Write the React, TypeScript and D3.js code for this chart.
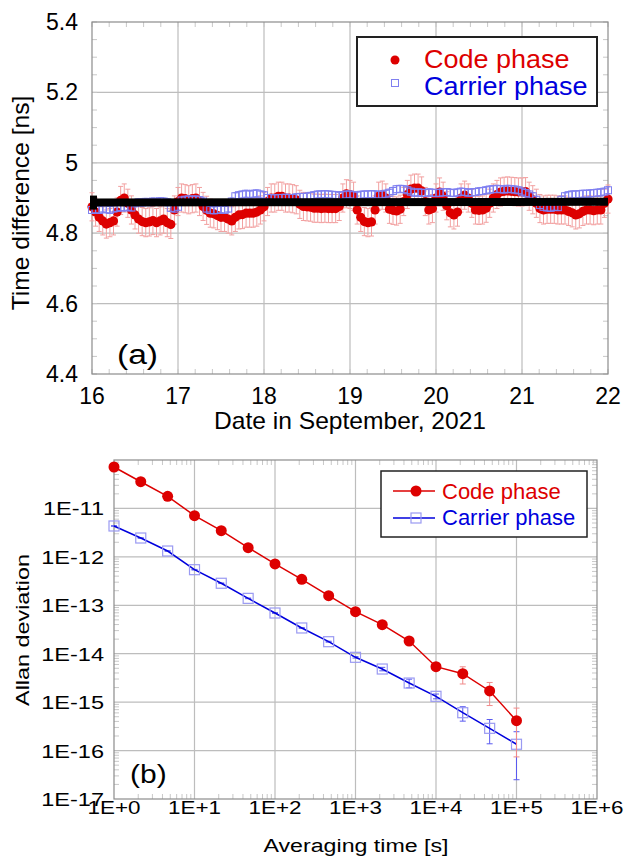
import React, { useRef, useEffect } from 'react';
import * as d3 from 'd3';

// (a) hourly time difference, 16 Sep 00:00 -> 22 Sep 00:00 [ns]
const codePhase = [
  4.875, 4.86, 4.845, 4.835, 4.826, 4.83, 4.835, 4.86, 4.893, 4.9,
  4.885, 4.866, 4.852, 4.84, 4.833, 4.83, 4.832, 4.836, 4.83, 4.835,
  4.84, 4.83, 4.825, 4.866, 4.89, 4.9, 4.898, 4.895, 4.898, 4.9,
  4.89, 4.876, 4.865, 4.857, 4.855, 4.85, 4.845, 4.845, 4.84, 4.835,
  4.845, 4.852, 4.853, 4.857, 4.857, 4.857, 4.86, 4.866, 4.875, 4.89,
  4.9, 4.9, 4.905, 4.905, 4.9, 4.9, 4.898, 4.895, 4.882, 4.876,
  4.875, 4.874, 4.871, 4.871, 4.87, 4.871, 4.87, 4.87, 4.87, 4.876,
  4.9, 4.912, 4.91, 4.905, 4.866, 4.845, 4.833, 4.83, 4.832, 4.866,
  4.905, 4.908, 4.9, 4.868, 4.865, 4.863, 4.868, 4.89, 4.91, 4.925,
  4.928, 4.928, 4.92, 4.89, 4.866, 4.87, 4.9, 4.917, 4.905, 4.878,
  4.858, 4.852, 4.86, 4.9, 4.908, 4.9, 4.885, 4.866, 4.865, 4.866,
  4.871, 4.885, 4.9, 4.91, 4.917, 4.919, 4.92, 4.919, 4.918, 4.917,
  4.917, 4.918, 4.905, 4.895, 4.885, 4.87, 4.866, 4.868, 4.868, 4.868,
  4.866, 4.866, 4.866, 4.862, 4.858, 4.852, 4.855, 4.862, 4.866, 4.866,
  4.864, 4.866, 4.866, 4.885, 4.897,
];
const carrierPhase = [
  4.866, 4.868, 4.866, 4.87, 4.868, 4.866, 4.87, 4.872, 4.874, 4.873,
  4.875, 4.873, 4.885, 4.888, 4.887, 4.889, 4.888, 4.89, 4.889, 4.891,
  4.89, 4.888, 4.872, 4.87, 4.875, 4.893, 4.895, 4.896, 4.895, 4.896,
  4.894, 4.89, 4.87, 4.866, 4.865, 4.866, 4.868, 4.866, 4.87, 4.89,
  4.905, 4.908, 4.91, 4.912, 4.91, 4.912, 4.913, 4.91, 4.908, 4.9,
  4.9, 4.899, 4.9, 4.9, 4.901, 4.9, 4.9, 4.902, 4.903, 4.903,
  4.904, 4.906, 4.908, 4.91, 4.91, 4.911, 4.91, 4.909, 4.908, 4.907,
  4.908, 4.91, 4.91, 4.908, 4.907, 4.909, 4.91, 4.91, 4.911, 4.91,
  4.909, 4.91, 4.912, 4.915, 4.92, 4.925, 4.926, 4.925, 4.922, 4.918,
  4.915, 4.916, 4.915, 4.914, 4.916, 4.915, 4.914, 4.915, 4.916, 4.917,
  4.915, 4.914, 4.916, 4.918, 4.917, 4.915, 4.916, 4.917, 4.919, 4.92,
  4.922, 4.924, 4.925, 4.926, 4.925, 4.924, 4.926, 4.925, 4.924, 4.922,
  4.918, 4.914, 4.91, 4.905, 4.895, 4.88, 4.875, 4.873, 4.872, 4.875,
  4.874, 4.895, 4.905, 4.908, 4.91, 4.91, 4.911, 4.912, 4.912, 4.913,
  4.914, 4.915, 4.916, 4.918, 4.922,
];
const codePhaseErr = 0.04;
const carrierPhaseErr = 0.01;
const meanDays = [16, 22];
const meanValues = [4.887, 4.889];

// (b) Allan deviation
const tau = [1, 2.15, 4.64, 10, 21.5, 46.4, 100, 215, 464, 1000, 2150, 4640, 1e4, 2.15e4, 4.64e4, 1e5];
const codeAdev = [7.17e-11, 3.56e-11, 1.78e-11, 7.08e-12, 3.47e-12, 1.55e-12, 7.13e-13, 3.44e-13, 1.58e-13,
  7.38e-14, 3.98e-14, 1.83e-14, 5.4e-15, 3.87e-15, 1.7e-15, 4.14e-16];
const codeAdevErr = [1e-12, 5e-13, 3e-13, 1e-13, 5e-14, 2e-14, 1e-14, 5e-15, 2e-15,
  1e-15, 5e-16, 3e-16, 2e-16, 1.5e-15, 0.85e-15, 3.4e-16];
const carrierAdev = [4.34e-12, 2.45e-12, 1.32e-12, 5.43e-13, 2.85e-13, 1.39e-13, 6.93e-14, 3.4e-14, 1.77e-14,
  8.43e-15, 4.83e-15, 2.48e-15, 1.32e-15, 6.05e-16, 2.88e-16, 1.35e-16];
const carrierAdevErr = [5e-14, 3e-14, 2e-14, 8e-15, 4e-15, 2e-15, 1e-15, 6e-16, 4e-16,
  3e-16, 4e-16, 5e-16, 1.5e-16, 2e-16, 1.5e-16, 1.1e-16];

const xTicksA = [16, 17, 18, 19, 20, 21, 22];
const yTicksA = [4.4, 4.6, 4.8, 5, 5.2, 5.4];
const xTicksB = [1, 10, 100, 1e3, 1e4, 1e5, 1e6];
const yTicksB = [1e-17, 1e-16, 1e-15, 1e-14, 1e-13, 1e-12, 1e-11, 1e-10];

const RED = '#dd0000';
const BLUE = '#0000dd';
const FONT = '"Liberation Sans", Arial, sans-serif';
const GRID = '#bdbdbd';
const FRAME = '#8c8c8c';

type Sel = d3.Selection<SVGGElement, unknown, null, undefined>;

// text that is a bit wider than plain Arial, like the original figure
const label = (g: Sel, x: number, y: number, txt: string, size: number, opts: {
  anchor?: string; sx?: number; rot?: boolean; fill?: string;
} = {}) => {
  const { anchor = 'start', sx = 1, rot = false, fill = '#000' } = opts;
  g.append('text')
    .attr('transform', `translate(${x},${y})${rot ? ' rotate(-90)' : ''} scale(${sx},1)`)
    .attr('text-anchor', anchor).attr('font-size', size).attr('font-family', FONT)
    .attr('fill', fill).text(txt);
};

const App: React.FC = () => {
  const ref = useRef<SVGSVGElement>(null);

  useEffect(() => {
    const svg = d3.select(ref.current);
    svg.selectAll('*').remove();

    // ---------- panel (a) ----------
    const xa = d3.scaleLinear().domain([16, 22]).range([92, 608]);
    const ya = d3.scaleLinear().domain([4.4, 5.4]).range([374, 22]);
    const ga = svg.append('g') as unknown as Sel;

    ga.selectAll('.gx').data(xTicksA.slice(1, -1)).join('line')
      .attr('x1', d => xa(d)).attr('x2', d => xa(d)).attr('y1', 22).attr('y2', 374)
      .attr('stroke', GRID).attr('stroke-width', 1.2);
    ga.selectAll('.gy').data(yTicksA.slice(1, -1)).join('line')
      .attr('y1', d => ya(d)).attr('y2', d => ya(d)).attr('x1', 92).attr('x2', 608)
      .attr('stroke', GRID).attr('stroke-width', 1.2);

    // inward minor ticks
    const yMinorA = d3.range(0, 21).map(i => 4.4 + i * 0.05);
    const xMinorA = d3.range(0, 31).map(i => 16 + i * 0.2);
    ga.append('g').selectAll('line').data(yMinorA).join('line')
      .attr('x1', 92).attr('x2', 97).attr('y1', d => ya(d)).attr('y2', d => ya(d))
      .attr('stroke', '#c8c8c8');
    ga.append('g').selectAll('line').data(yMinorA).join('line')
      .attr('x1', 603).attr('x2', 608).attr('y1', d => ya(d)).attr('y2', d => ya(d))
      .attr('stroke', '#c8c8c8');
    ga.append('g').selectAll('line').data(xMinorA).join('line')
      .attr('y1', 22).attr('y2', 27).attr('x1', d => xa(d)).attr('x2', d => xa(d))
      .attr('stroke', '#c8c8c8');
    ga.append('g').selectAll('line').data(xMinorA).join('line')
      .attr('y1', 369).attr('y2', 374).attr('x1', d => xa(d)).attr('x2', d => xa(d))
      .attr('stroke', '#c8c8c8');

    ga.append('rect').attr('x', 92).attr('y', 22).attr('width', 516).attr('height', 352)
      .attr('fill', 'none').attr('stroke', FRAME).attr('stroke-width', 1.2);

    const day = (i: number) => 16 + i / 24;

    // code phase: error bars then dots
    const codeG = ga.append('g');
    codeG.selectAll('path').data(codePhase).join('path')
      .attr('d', (d, i) => {
        const x = xa(day(i)), y0 = ya(d - codePhaseErr), y1 = ya(d + codePhaseErr);
        return `M${x},${y0}V${y1}M${x - 2.5},${y0}H${x + 2.5}M${x - 2.5},${y1}H${x + 2.5}`;
      })
      .attr('stroke', '#f2a0a0').attr('stroke-width', 1).attr('fill', 'none');
    codeG.selectAll('circle').data(codePhase).join('circle')
      .attr('cx', (d, i) => xa(day(i))).attr('cy', d => ya(d)).attr('r', 4.6)
      .attr('fill', RED);

    // carrier phase
    const carG = ga.append('g');
    carG.selectAll('path').data(carrierPhase).join('path')
      .attr('d', (d, i) => {
        const x = xa(day(i)), y0 = ya(d - carrierPhaseErr), y1 = ya(d + carrierPhaseErr);
        return `M${x},${y0}V${y1}M${x - 2},${y0}H${x + 2}M${x - 2},${y1}H${x + 2}`;
      })
      .attr('stroke', '#5a5af0').attr('stroke-width', 0.8).attr('fill', 'none');
    carG.selectAll('rect').data(carrierPhase).join('rect')
      .attr('x', (d, i) => xa(day(i)) - 3.5).attr('y', d => ya(d) - 3.5)
      .attr('width', 7).attr('height', 7)
      .attr('fill', 'none').attr('stroke', '#8080f0').attr('stroke-width', 1);

    // mean line
    const meanLine = d3.line<number>().x((d, i) => xa(meanDays[i])).y(d => ya(d));
    ga.append('path').datum(meanValues).attr('d', meanLine)
      .attr('stroke', '#000').attr('stroke-width', 8).attr('fill', 'none');
    ga.append('rect').attr('x', xa(meanDays[0]) - 2).attr('y', ya(meanValues[0]) - 7)
      .attr('width', 7).attr('height', 14).attr('fill', '#000');

    // tick labels and titles
    xTicksA.forEach(d => label(ga, xa(d), 404, String(d), 23, { anchor: 'middle' }));
    yTicksA.forEach(d => label(ga, 78, ya(d) + 8, String(d), 23, { anchor: 'end' }));
    label(ga, 350, 429, 'Date in September, 2021', 23, { anchor: 'middle', sx: 1.07 });
    label(ga, 29, 203, 'Time difference [ns]', 23, { anchor: 'middle', sx: 1.07, rot: true });
    label(ga, 117, 364, '(a)', 28, { sx: 1.2 });

    // legend (a)
    const la = ga.append('g') as unknown as Sel;
    la.append('rect').attr('x', 357).attr('y', 37).attr('width', 240).attr('height', 69)
      .attr('fill', '#fff').attr('stroke', '#222').attr('stroke-width', 2);
    la.append('circle').attr('cx', 395).attr('cy', 60).attr('r', 4.5).attr('fill', RED);
    la.append('rect').attr('x', 391.5).attr('y', 79.5).attr('width', 7).attr('height', 7)
      .attr('fill', 'none').attr('stroke', '#8080f0');
    label(la, 424, 68, 'Code phase', 25, { fill: RED, sx: 1.08 });
    label(la, 424, 95, 'Carrier phase', 25, { fill: BLUE, sx: 1.08 });

    // ---------- panel (b) ----------
    const xb = d3.scaleLog().domain([1, 1e6]).range([114, 597]);
    const yb = d3.scaleLog().domain([1e-17, 1e-10]).range([799, 460]);
    const gb = svg.append('g') as unknown as Sel;

    gb.selectAll('.gx').data(xTicksB.slice(1, -1)).join('line')
      .attr('x1', d => xb(d)).attr('x2', d => xb(d)).attr('y1', 460).attr('y2', 799)
      .attr('stroke', GRID).attr('stroke-width', 1.2);
    gb.selectAll('.gy').data(yTicksB.slice(1, -1)).join('line')
      .attr('y1', d => yb(d)).attr('y2', d => yb(d)).attr('x1', 114).attr('x2', 597)
      .attr('stroke', GRID).attr('stroke-width', 1.2);

    const minor = (lo: number, hi: number) => {
      const out: number[] = [];
      for (let e = lo; e < hi; e++) for (let m = 2; m <= 9; m++) out.push(m * Math.pow(10, e));
      return out;
    };
    const xMinorB = minor(0, 6);
    const yMinorB = minor(-17, -10);
    gb.append('g').selectAll('line').data(xMinorB).join('line')
      .attr('x1', d => xb(d)).attr('x2', d => xb(d)).attr('y1', 460).attr('y2', 465)
      .attr('stroke', '#c8c8c8');
    gb.append('g').selectAll('line').data(xMinorB).join('line')
      .attr('x1', d => xb(d)).attr('x2', d => xb(d)).attr('y1', 794).attr('y2', 799)
      .attr('stroke', '#c8c8c8');
    gb.append('g').selectAll('line').data(yMinorB).join('line')
      .attr('y1', d => yb(d)).attr('y2', d => yb(d)).attr('x1', 114).attr('x2', 119)
      .attr('stroke', '#c8c8c8');
    gb.append('g').selectAll('line').data(yMinorB).join('line')
      .attr('y1', d => yb(d)).attr('y2', d => yb(d)).attr('x1', 592).attr('x2', 597)
      .attr('stroke', '#c8c8c8');

    gb.append('rect').attr('x', 114).attr('y', 460).attr('width', 483).attr('height', 339)
      .attr('fill', 'none').attr('stroke', FRAME).attr('stroke-width', 1.2);

    const errPath = (v: number, e: number, t: number, w: number) => {
      const x = xb(t), y0 = yb(Math.max(v - e, 1e-17)), y1 = yb(v + e);
      return `M${x},${y0}V${y1}M${x - w},${y0}H${x + w}M${x - w},${y1}H${x + w}`;
    };
    const lineB = d3.line<number>().x((d, i) => xb(tau[i])).y(d => yb(d));

    // carrier
    gb.append('g').selectAll('path').data(carrierAdev).join('path')
      .attr('d', (d, i) => errPath(d, carrierAdevErr[i], tau[i], 3))
      .attr('stroke', '#5a5af0').attr('fill', 'none');
    gb.append('path').datum(carrierAdev).attr('d', lineB)
      .attr('stroke', BLUE).attr('stroke-width', 1.5).attr('fill', 'none');
    gb.append('g').selectAll('rect').data(carrierAdev).join('rect')
      .attr('x', (d, i) => xb(tau[i]) - 5).attr('y', d => yb(d) - 5)
      .attr('width', 10).attr('height', 10)
      .attr('fill', 'none').attr('stroke', '#9a9af2').attr('stroke-width', 1.2);

    // code
    gb.append('g').selectAll('path').data(codeAdev).join('path')
      .attr('d', (d, i) => errPath(d, codeAdevErr[i], tau[i], 3))
      .attr('stroke', '#f08a8a').attr('fill', 'none');
    gb.append('path').datum(codeAdev).attr('d', lineB)
      .attr('stroke', RED).attr('stroke-width', 1.5).attr('fill', 'none');
    gb.append('g').selectAll('circle').data(codeAdev).join('circle')
      .attr('cx', (d, i) => xb(tau[i])).attr('cy', d => yb(d)).attr('r', 5.5)
      .attr('fill', RED);

    // tick labels and titles
    xTicksB.forEach(d => label(gb, xb(d), 814, `1E+${Math.round(Math.log10(d))}`, 19,
      { anchor: 'middle', sx: 1.18 }));
    yTicksB.slice(0, -1).forEach(d => label(gb, 104, yb(d) + 7, `1E${Math.round(Math.log10(d))}`, 19,
      { anchor: 'end', sx: 1.24 }));
    label(gb, 356, 852, 'Averaging time [s]', 19, { anchor: 'middle', sx: 1.22 });
    label(gb, 29, 630, 'Allan deviation', 19, { anchor: 'middle', sx: 1.23, rot: true });
    label(gb, 130, 783, '(b)', 25, { sx: 1.2 });

    // legend (b)
    const lb = gb.append('g') as unknown as Sel;
    lb.append('rect').attr('x', 381).attr('y', 471).attr('width', 206).attr('height', 66)
      .attr('fill', '#fff').attr('stroke', '#222').attr('stroke-width', 1.5);
    lb.append('line').attr('x1', 393).attr('x2', 435).attr('y1', 491).attr('y2', 491)
      .attr('stroke', RED).attr('stroke-width', 1.5);
    lb.append('circle').attr('cx', 416).attr('cy', 491).attr('r', 5.5).attr('fill', RED);
    lb.append('line').attr('x1', 393).attr('x2', 435).attr('y1', 518).attr('y2', 518)
      .attr('stroke', BLUE).attr('stroke-width', 1.5);
    lb.append('rect').attr('x', 411).attr('y', 513).attr('width', 10).attr('height', 10)
      .attr('fill', 'none').attr('stroke', '#9a9af2').attr('stroke-width', 1.2);
    label(lb, 442, 499, 'Code phase', 22, { fill: RED });
    label(lb, 442, 525, 'Carrier phase', 22, { fill: BLUE });
  }, []);

  return (
    <svg ref={ref} width="624" height="860"
      style={{ position: 'absolute', left: 0, top: 0, background: '#fff' }}></svg>
  );
};

export default App;
